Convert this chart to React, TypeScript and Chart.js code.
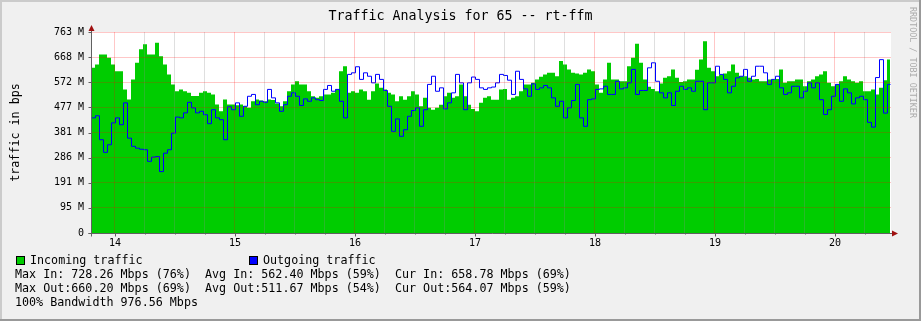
import React, { useEffect, useRef } from "react";
import { Chart, registerables } from "chart.js";

Chart.register(...registerables);

// ---- time axis (days of month) ----
const startDay = 13.8;
const stepDays = 1 / 30;
const axisMaxDay = 13.8 + 800 / 120;
const firstTickDay = 14;
const lastTickDay = 20.25;
const minorTickDays = 0.25;

// ---- value axis (M = 2^20 bps) ----
const yMax = 762.94;
const yStep = 95.367;
const yTickCount = 9;

// ---- series (M) ----
const incoming = [
  627, 640, 678, 678, 665, 640, 614, 614, 545, 507,
  583, 646, 697, 716, 678, 678, 722, 671, 640, 602,
  564, 538, 545, 538, 532, 520, 520, 532, 538, 532,
  526, 488, 462, 507, 488, 488, 485, 488, 481, 475,
  500, 507, 503, 500, 507, 505, 492, 481, 500, 538,
  564, 576, 564, 564, 538, 519, 513, 519, 526, 526,
  532, 545, 614, 633, 532, 538, 532, 545, 538, 506,
  538, 567, 551, 545, 532, 526, 500, 519, 506, 519,
  538, 526, 481, 513, 475, 468, 475, 487, 519, 532,
  513, 519, 564, 519, 487, 471, 462, 494, 513, 519,
  506, 506, 545, 547, 506, 513, 519, 538, 564, 564,
  570, 583, 593, 602, 608, 608, 595, 653, 640, 621,
  608, 605, 602, 608, 621, 614, 564, 532, 583, 646,
  583, 583, 576, 576, 633, 665, 718, 646, 583, 555,
  547, 538, 567, 589, 595, 621, 589, 573, 576, 583,
  583, 620, 659, 728, 627, 614, 595, 602, 605, 614,
  640, 608, 595, 595, 589, 583, 585, 576, 576, 583,
  583, 585, 621, 570, 576, 576, 583, 583, 557, 576,
  583, 595, 602, 614, 570, 557, 564, 576, 595, 583,
  576, 570, 576, 538, 538, 545, 526, 551, 580, 659,
];

const outgoing = [
  437, 445, 354, 306, 335, 418, 437, 411, 494, 360,
  329, 322, 318, 316, 272, 288, 290, 233, 303, 316,
  379, 440, 437, 456, 496, 475, 456, 462, 449, 415,
  468, 437, 430, 354, 479, 468, 494, 443, 481, 519,
  526, 487, 500, 496, 545, 513, 494, 462, 487, 519,
  532, 519, 484, 509, 500, 513, 506, 503, 545, 560,
  538, 545, 500, 437, 602, 608, 631, 583, 608, 595,
  570, 602, 583, 541, 481, 386, 433, 367, 392, 443,
  465, 475, 405, 468, 564, 595, 538, 551, 471, 494,
  532, 602, 570, 468, 570, 592, 583, 551, 545, 551,
  554, 570, 602, 598, 580, 526, 614, 583, 547, 519,
  566, 545, 551, 560, 551, 513, 481, 500, 437, 475,
  503, 564, 437, 405, 506, 509, 545, 547, 557, 526,
  526, 576, 547, 551, 570, 621, 526, 541, 541, 627,
  646, 576, 532, 513, 532, 484, 538, 557, 545, 551,
  538, 576, 576, 468, 570, 570, 633, 602, 583, 532,
  557, 589, 595, 621, 576, 595, 633, 633, 608, 564,
  583, 595, 551, 526, 532, 557, 557, 513, 538, 570,
  551, 570, 506, 450, 468, 519, 564, 500, 547, 532,
  490, 513, 519, 506, 420, 402, 590, 658, 455, 564,
];

// ---- texts ----
const titleText = "Traffic Analysis for 65 -- rt-ffm";
const yAxisLabel = "traffic in bps";
const watermarkText = "RRDTOOL / TOBI OETIKER";
const legendLabels = ["Incoming traffic", "Outgoing traffic"];
const legendColors = ["#00CC00", "#0000FF"];
const statLines = [
  "Max In: 728.26 Mbps (76%)  Avg In: 562.40 Mbps (59%)  Cur In: 658.78 Mbps (69%)",
  "Max Out:660.20 Mbps (69%)  Avg Out:511.67 Mbps (54%)  Cur Out:564.07 Mbps (59%)",
  "100% Bandwidth 976.56 Mbps",
];

const MONO = '"DejaVu Sans Mono", monospace';

function toPoints(vals: number[]) {
  const pts = vals.map((v, i) => ({ x: startDay + i * stepDays, y: v }));
  pts.push({ x: startDay + (vals.length - 0.25) * stepDays, y: vals[vals.length - 1] });
  return pts;
}

const rrdPlugin = {
  id: "rrdDecor",
  beforeDraw(chart: any) {
    const { ctx, width, height, chartArea: a } = chart;
    ctx.save();
    ctx.fillStyle = "#F0F0F0";
    ctx.fillRect(0, 0, width, height);
    ctx.fillStyle = "#CBCBCB";
    ctx.fillRect(0, 0, width, 2);
    ctx.fillRect(0, 0, 2, height);
    ctx.fillStyle = "#999999";
    ctx.fillRect(0, height - 2, width, 2);
    ctx.fillRect(width - 2, 0, 2, height);
    ctx.fillStyle = "#FFFFFF";
    ctx.fillRect(a.left, a.top, a.right - a.left, a.bottom - a.top);
    ctx.restore();
  },
  beforeDatasetDraw(chart: any, args: any) {
    if (args.index === 0) {
      chart.ctx.save();
      chart.ctx.translate(0.5, 0);
    }
  },
  afterDatasetDraw(chart: any, args: any) {
    if (args.index === 0) chart.ctx.restore();
  },
  afterDraw(chart: any) {
    const { ctx, width, chartArea: a } = chart;
    const xs = chart.scales.x;
    const ys = chart.scales.y;
    ctx.save();
    const axisColor = "#606060";
    ctx.strokeStyle = axisColor;
    ctx.lineWidth = 1;
    const ax = Math.round(a.left) + 0.5;
    const ay = Math.round(a.bottom) + 0.5;
    ctx.beginPath();
    ctx.moveTo(ax, ay + 3);
    ctx.lineTo(ax, a.top - 4);
    ctx.moveTo(ax - 3, ay);
    ctx.lineTo(a.right + 5, ay);
    // tick marks
    ys.ticks.forEach((t: any) => {
      const py = Math.round(ys.getPixelForValue(t.value)) + 0.5;
      ctx.moveTo(ax - 3, py);
      ctx.lineTo(ax, py);
    });
    xs.ticks.forEach((t: any) => {
      const px = Math.round(xs.getPixelForValue(t.value)) + 0.5;
      const len = Number.isInteger(t.value) ? 3 : 1;
      ctx.moveTo(px, ay);
      ctx.lineTo(px, ay + len);
    });
    ctx.stroke();
    // arrows
    ctx.fillStyle = "#A01010";
    ctx.beginPath();
    ctx.moveTo(ax - 3, a.top - 1);
    ctx.lineTo(ax + 3, a.top - 1);
    ctx.lineTo(ax, a.top - 7);
    ctx.closePath();
    ctx.fill();
    ctx.beginPath();
    ctx.moveTo(a.right + 1, ay - 3);
    ctx.lineTo(a.right + 1, ay + 3);
    ctx.lineTo(a.right + 7, ay);
    ctx.closePath();
    ctx.fill();

    // title
    ctx.fillStyle = "#000";
    ctx.font = "13.3px " + MONO;
    ctx.textAlign = "center";
    ctx.textBaseline = "middle";
    ctx.fillText(titleText, width / 2, 16.5);

    // y axis label
    ctx.save();
    ctx.translate(16, (a.top + a.bottom) / 2);
    ctx.rotate(-Math.PI / 2);
    ctx.font = "11.7px " + MONO;
    ctx.textAlign = "center";
    ctx.textBaseline = "middle";
    ctx.fillText(yAxisLabel, 0, 0);
    ctx.restore();

    // watermark
    ctx.save();
    ctx.translate(912, 7);
    ctx.rotate(Math.PI / 2);
    ctx.font = "8.4px " + MONO;
    ctx.fillStyle = "#ABABAB";
    ctx.textAlign = "left";
    ctx.textBaseline = "middle";
    ctx.fillText(watermarkText, 0, 0);
    ctx.restore();

    // legend
    ctx.font = "11.7px " + MONO;
    ctx.textAlign = "left";
    ctx.textBaseline = "middle";
    const legendX = [16, 249];
    legendLabels.forEach((lab, k) => {
      const bx = legendX[k];
      ctx.fillStyle = legendColors[k];
      ctx.fillRect(bx, 256, 9, 9);
      ctx.strokeStyle = "#000";
      ctx.strokeRect(bx + 0.5, 256.5, 8, 8);
      ctx.fillStyle = "#000";
      ctx.fillText(lab, bx + 14, 261);
    });
    statLines.forEach((line, k) => {
      ctx.fillText(line, 15, 275 + k * 14);
    });
    ctx.restore();
  },
};

export default function App() {
  const ref = useRef<HTMLCanvasElement | null>(null);
  useEffect(() => {
    if (!ref.current) return;
    const font = { family: MONO, size: 10 };
    const chart = new Chart(ref.current, {
      type: "line",
      data: {
        datasets: [
          {
            label: legendLabels[1],
            data: toPoints(outgoing),
            stepped: "before",
            borderColor: "#0000FF",
            borderWidth: 1,
            pointRadius: 0,
            fill: false,
          },
          {
            label: legendLabels[0],
            data: toPoints(incoming),
            stepped: "before",
            borderColor: "#00CC00",
            backgroundColor: "#00CC00",
            borderWidth: 0,
            pointRadius: 0,
            fill: "origin",
          },
        ],
      },
      options: {
        responsive: false,
        animation: false,
        events: [],
        layout: { padding: { left: 0, top: 32, right: 30, bottom: 0 } },
        plugins: {
          legend: { display: false },
          tooltip: { enabled: false },
          title: { display: false },
        },
        scales: {
          x: {
            type: "linear",
            min: startDay,
            max: axisMaxDay,
            afterBuildTicks: (s: any) => {
              const t: any[] = [];
              for (let d = firstTickDay; d <= lastTickDay + 1e-9; d += minorTickDays) t.push({ value: d });
              s.ticks = t;
            },
            afterFit: (s: any) => {
              s.height = 88;
            },
            grid: {
              z: 1,
              drawTicks: false,
              lineWidth: 1,
              color: (c: any) =>
                c.tick && Number.isInteger(c.tick.value) ? "rgba(255,0,0,0.22)" : "rgba(140,140,140,0.28)",
            },
            border: { display: false },
            ticks: {
              autoSkip: false,
              maxRotation: 0,
              minRotation: 0,
              padding: 4,
              font,
              color: "#000",
              callback: (v: any) => (Number.isInteger(v) ? String(v) : ""),
            },
          },
          y: {
            type: "linear",
            min: 0,
            max: yMax,
            afterBuildTicks: (s: any) => {
              const t: any[] = [];
              for (let k = 0; k < yTickCount; k++) t.push({ value: k * yStep });
              s.ticks = t;
            },
            afterFit: (s: any) => {
              s.width = 91;
            },
            grid: { z: 1, drawTicks: false, lineWidth: 1, color: "rgba(255,0,0,0.22)" },
            border: { display: false },
            ticks: {
              autoSkip: false,
              padding: 7,
              font,
              color: "#000",
              callback: (v: any) => (v === 0 ? "0" : Math.round(v) + " M"),
            },
          },
        },
      },
      plugins: [rrdPlugin],
    } as any);
    return () => chart.destroy();
  }, []);
  return (
    <div style={{ position: "fixed", left: 0, top: 0, width: 921, height: 321 }}>
      <canvas ref={ref} width={921} height={321} style={{ display: "block" }} />
    </div>
  );
}
